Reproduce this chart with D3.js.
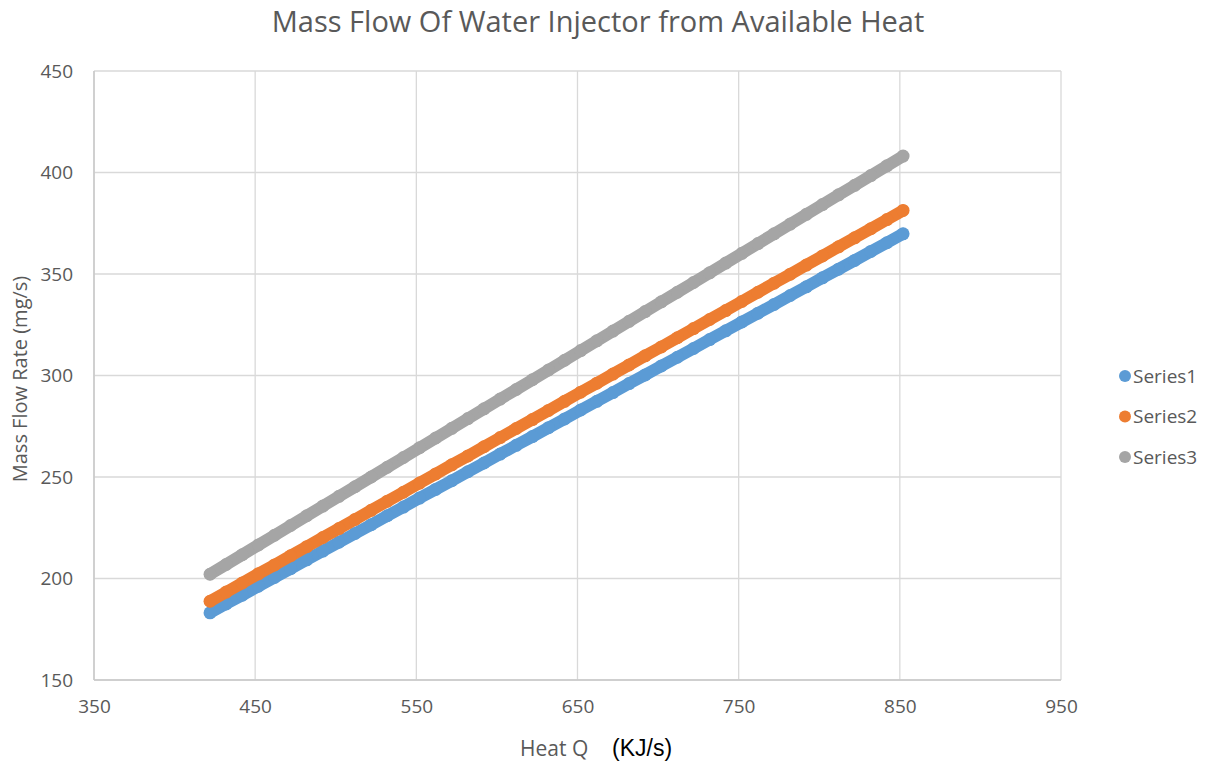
<!DOCTYPE html>
<html><head><meta charset="utf-8">
<script src="https://cdn.jsdelivr.net/npm/d3@7/dist/d3.min.js"></script>
<style>body{margin:0;background:#fff}svg{display:block}</style>
</head><body>
<svg id="c" width="1211" height="761"></svg>
<script>
const title = "Mass Flow Of Water Injector from Available Heat";
const xTicks = [350, 450, 550, 650, 750, 850, 950];
const yTicks = [150, 200, 250, 300, 350, 400, 450];
const seriesNames = ["Series1", "Series2", "Series3"];
const seriesColors = ["#5B9BD5", "#ED7D31", "#A5A5A5"];
const heatQ = [422,432,442,452,462,472,482,492,502,512,522,532,542,552,562,572,582,592,602,612,622,632,642,652,662,672,682,692,702,712,722,732,742,752,762,772,782,792,802,812,822,832,842,852];
const series1 = [183.1,187.5,191.8,196.2,200.5,204.8,209.2,213.5,217.9,222.2,226.5,230.9,235.2,239.6,243.9,248.2,252.6,256.9,261.3,265.6,269.9,274.3,278.6,283.0,287.3,291.6,296.0,300.3,304.7,309.0,313.3,317.7,322.0,326.4,330.7,335.0,339.4,343.7,348.1,352.4,356.7,361.1,365.4,369.8];
const series2 = [188.8,193.3,197.8,202.3,206.7,211.2,215.7,220.2,224.6,229.1,233.6,238.1,242.5,247.0,251.5,256.0,260.4,264.9,269.4,273.9,278.3,282.8,287.3,291.8,296.2,300.7,305.2,309.7,314.1,318.6,323.1,327.6,332.0,336.5,341.0,345.5,349.9,354.4,358.9,363.4,367.8,372.3,376.8,381.3];
const series3 = [202.1,206.9,211.7,216.5,221.3,226.1,230.9,235.7,240.5,245.2,250.0,254.8,259.6,264.4,269.2,274.0,278.8,283.6,288.4,293.1,297.9,302.7,307.5,312.3,317.1,321.9,326.7,331.5,336.3,341.0,345.8,350.6,355.4,360.2,365.0,369.8,374.6,379.4,384.2,389.0,393.7,398.5,403.3,408.1];
const allSeries = [series1, series2, series3];

const svg = d3.select("#c");
const L = 94, R = 1061, T = 71, B = 680;
const x = d3.scaleLinear().domain([350, 950]).range([L, R]);
const y = d3.scaleLinear().domain([150, 450]).range([B, T]);
const font = "'Open Sans', 'Noto Sans', sans-serif";
const grey = "#595959";

// gridlines
svg.append("g").selectAll("line").data(xTicks).join("line")
  .attr("x1", d => x(d)).attr("x2", d => x(d)).attr("y1", T).attr("y2", B)
  .attr("stroke", "#d9d9d9").attr("stroke-width", 1.3);
svg.append("g").selectAll("line").data(yTicks).join("line")
  .attr("x1", L).attr("x2", R).attr("y1", d => y(d)).attr("y2", d => y(d))
  .attr("stroke", "#d9d9d9").attr("stroke-width", 1.3);
// axis lines
svg.append("line").attr("x1", L).attr("x2", L).attr("y1", T).attr("y2", B).attr("stroke", "#c8c8c8").attr("stroke-width", 1.5);
svg.append("line").attr("x1", L).attr("x2", R).attr("y1", B).attr("y2", B).attr("stroke", "#c8c8c8").attr("stroke-width", 1.5);

// axes via d3
const xAxis = svg.append("g").attr("transform", `translate(0,${B})`)
  .call(d3.axisBottom(x).tickValues(xTicks).tickSize(0).tickPadding(20));
const yAxis = svg.append("g").attr("transform", `translate(${L},0)`)
  .call(d3.axisLeft(y).tickValues(yTicks).tickSize(0).tickPadding(21));
[xAxis, yAxis].forEach(a => {
  a.select(".domain").remove();
  a.selectAll("text").attr("font-family", font).attr("font-size", 19).attr("fill", grey);
});

// series
const line = d3.line().x((d, i) => x(heatQ[i])).y(d => y(d));
allSeries.forEach((s, k) => {
  const g = svg.append("g");
  g.append("path").datum(s).attr("d", line).attr("fill", "none")
    .attr("stroke", seriesColors[k]).attr("stroke-width", 12).attr("stroke-linecap", "round");
  g.selectAll("circle").data(s).join("circle")
    .attr("cx", (d, i) => x(heatQ[i])).attr("cy", d => y(d)).attr("r", 6.5)
    .attr("fill", seriesColors[k]);
});

// title
svg.append("text").attr("x", 598).attr("y", 32).attr("text-anchor", "middle")
  .attr("font-family", font).attr("font-size", 29).attr("fill", grey).text(title);

// y axis title
svg.append("text").attr("transform", "translate(27,379) rotate(-90)").attr("text-anchor", "middle")
  .attr("font-family", font).attr("font-size", 20).attr("fill", grey).text("Mass Flow Rate (mg/s)");

// x axis title
const xt = svg.append("text").attr("x", 520).attr("y", 756);
xt.append("tspan").attr("font-family", font).attr("font-size", 21).attr("fill", grey).text("Heat Q");
xt.append("tspan").attr("x", 612).attr("font-family", "'Liberation Sans', Arial, sans-serif").attr("font-size", 23).attr("fill", "#000").text("(KJ/s)");

// legend
const lg = svg.append("g").selectAll("g").data(seriesNames).join("g")
  .attr("transform", (d, i) => `translate(1125,${376 + i * 40.5})`);
lg.append("circle").attr("r", 6).attr("fill", (d, i) => seriesColors[i]);
lg.append("text").attr("x", 8).attr("dy", "0.35em").attr("font-family", font)
  .attr("font-size", 19).attr("fill", grey).text(d => d);
</script>
</body></html>
